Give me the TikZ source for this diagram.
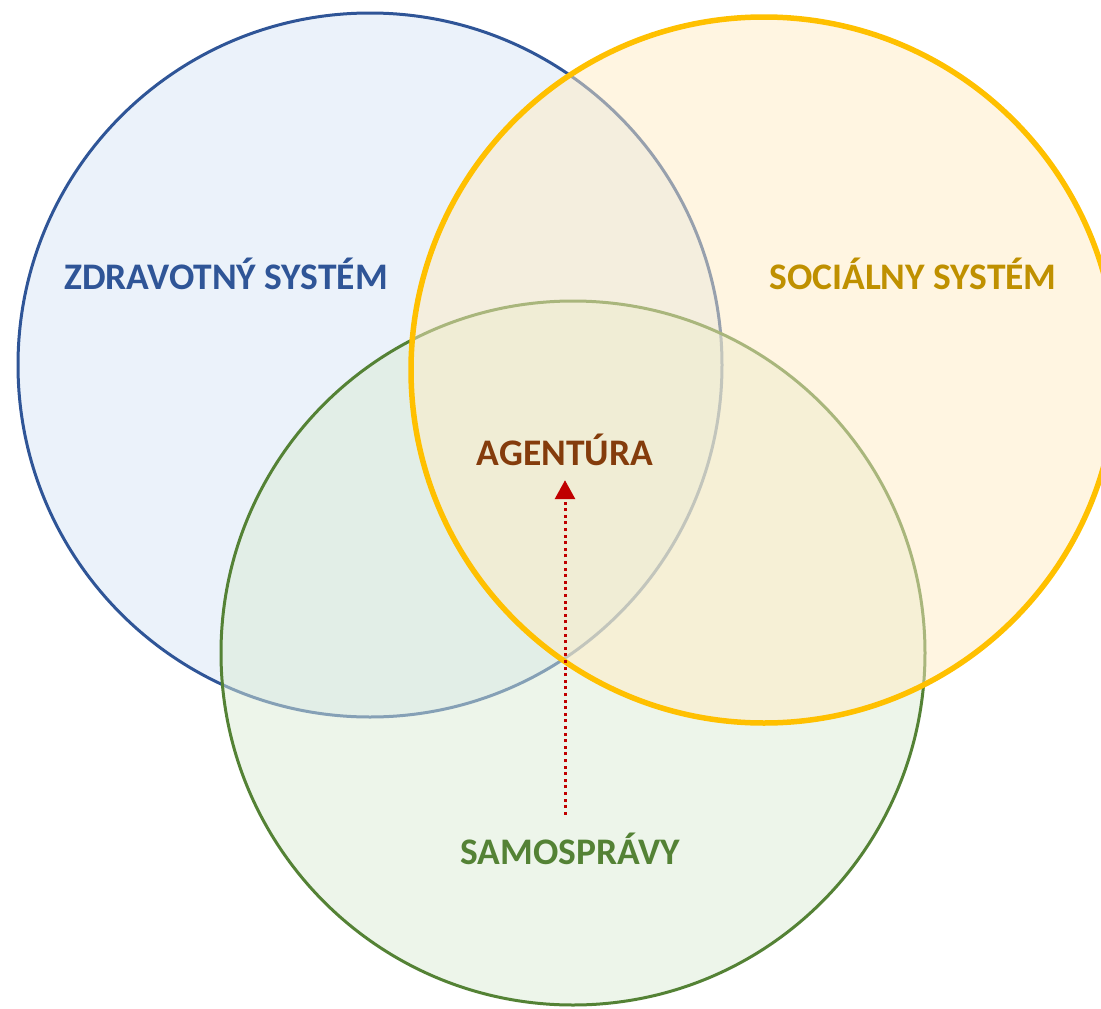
\documentclass[tikz,border=0pt]{standalone}
\usepackage{fontspec}
\setmainfont{Carlito}
\usetikzlibrary{arrows.meta}

\definecolor{zdravline}{HTML}{2F5597}
\definecolor{zdravfill}{RGB}{215,229,245}
\definecolor{socline}{HTML}{FFC000}
\definecolor{socfill}{RGB}{255,235,195}
\definecolor{soctext}{HTML}{BF9000}
\definecolor{samoline}{HTML}{548235}
\definecolor{samofill}{RGB}{219,235,213}
\definecolor{agenttext}{HTML}{843C0C}
\definecolor{arrowred}{HTML}{C00000}

\begin{document}
\begin{tikzpicture}
            [x=1pt,y=1pt,every node/.style={font=\fontsize{37.5}{42}\selectfont\bfseries,inner sep=0pt,text height=24pt,text depth=0pt}]
            \useasboundingbox (0,0) rectangle (1101,-1009);
            \clip (0,0) rectangle (1101,-1009);
            % circles
            \fill[zdravfill, fill opacity=0.5] (370,-365) circle (352pt);
            \draw[zdravline, line width=3pt] (370,-365) circle (352pt);
            \fill[samofill, fill opacity=0.5] (573,-653) circle (352pt);
            \draw[samoline, line width=3pt] (573,-653) circle (352pt);
            \fill[socfill, fill opacity=0.5] (764,-370) circle (353pt);
            \draw[socline, line width=5.5pt] (764,-370) circle (353pt);
            % labels
            \node[text=zdravline] (zdrav) at (226,-277) {ZDRAVOTNÝ SYSTÉM};
            \node[text=soctext] (soc) at (913,-277) {SOCIÁLNY SYSTÉM};
            \node[text=agenttext] (agent) at (565,-453) {AGENTÚRA};
            \node[text=samoline] (samo) at (570,-852) {SAMOSPRÁVY};
            \draw[arrowred, line width=3pt, dash pattern=on 3pt off 3.6pt, -{Triangle[width=20pt,length=19pt]}, shorten <=25pt, shorten >=15pt] (samo.north -| agent) -- (agent.south);
        \end{tikzpicture}
\end{document}
